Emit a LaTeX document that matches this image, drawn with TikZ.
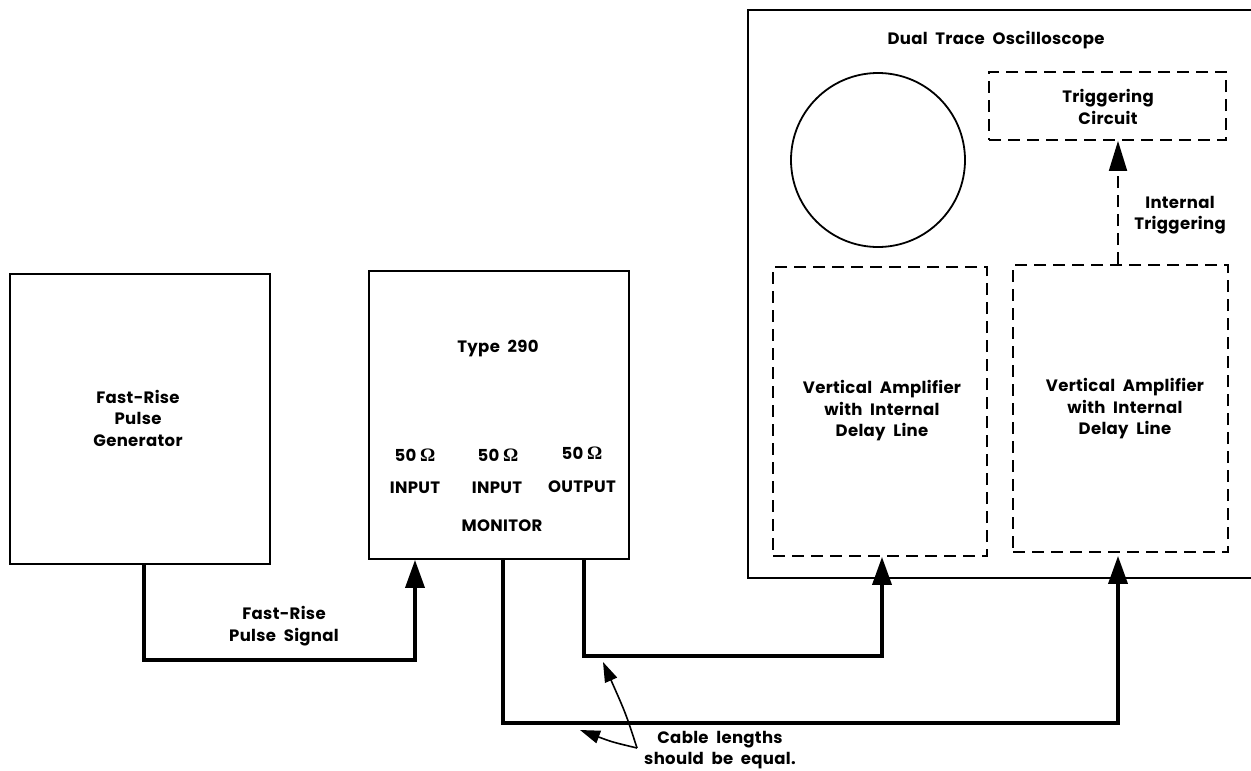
\documentclass[tikz,border=0pt]{standalone}
\usepackage{fontspec}
\setmainfont{Poppins}[BoldFont={Poppins Bold}, LetterSpace=2]
\newfontfamily\omegafont{Liberation Serif}
\usetikzlibrary{arrows.meta,calc}
\tikzset{
  lbl/.style={font=\bfseries\fontsize{16.5}{21.5}\selectfont, align=center, inner sep=0},
  box/.style={draw, line width=1.8, minimum width=#1, inner sep=0},
  dbox/.style={draw, line width=1.8, dash pattern=on 12pt off 7pt, inner sep=0},
  wire/.style={line width=3.6, -{Triangle[length=28pt,width=19pt]}},
  note/.style={line width=1.6, -{Triangle[length=20pt,width=13pt]}},
}
\newcommand{\ohm}{{\omegafont\fontsize{19}{20}\selectfont Ω}}
\begin{document}
\begin{tikzpicture}[x=1pt,y=-1pt]
\useasboundingbox (0,0) rectangle (1251,771);
% Pulse generator
\node[box=260, minimum height=290] (gen) at (140,419) {};
\node[lbl] (gentxt) at (138,418) {Fast-Rise\\Pulse\\Generator};
% Type 290
\node[box=260, minimum height=288] (t290) at (499,415) {};
\node[lbl] (t290txt) at (498,349) {Type\ \ 290};
\node[lbl] (o1) at (415,455) {50 \ohm};
\node[lbl] (o2) at (498,455) {50 \ohm};
\node[lbl] (o3) at (582,453) {50 \ohm};
\node[lbl] (in1) at (415,488) {INPUT};
\node[lbl] (in2) at (497,488) {INPUT};
\node[lbl] (out) at (582,487) {OUTPUT};
\node[lbl] (mon) at (502,526) {MONITOR};
% Oscilloscope
\node[box=522, minimum height=568] (scope) at (1009,294) {};
\node[lbl] (scopetxt) at (996,40) {Dual\ \ Trace\ \ Oscilloscope};
\node[draw, circle, line width=1.8, minimum size=174, inner sep=0] (crt) at (878,160) {};
\node[dbox, minimum width=237, minimum height=68] (trig) at (1107.5,106) {};
\node[lbl] (trigtxt) at (1108,107) {Triggering\\Circuit};
\node[dbox, minimum width=214, minimum height=289] (va1) at (880,411.5) {};
\node[lbl] (va1txt) at (882,411) {Vertical\ \ Amplifier\\with\ \ Internal\\Delay\ \ Line};
\node[dbox, minimum width=215, minimum height=287] (va2) at (1120.5,408.5) {};
\node[lbl] (va2txt) at (1125,409) {Vertical\ \ Amplifier\\with\ \ Internal\\Delay\ \ Line};
\node[lbl] (inttrig) at (1180,215) {Internal\\Triggering};
% internal triggering
\coordinate (tx) at (1118,0);
\draw[line width=1.8, dash pattern=on 12pt off 7pt, -{Triangle[length=30pt,width=18pt]}] (va2.north -| tx) -- (trig.south -| tx);
% wires
\node[lbl] (sig) at (284,626) {Fast-Rise\\Pulse\ \ Signal};
\coordinate (r1) at (415,660);
\draw[wire] ([xshift=4pt]gen.south) |- (r1) -- (t290.south -| r1);
\coordinate (r2a) at (503,723);
\coordinate (r2b) at (1118,723);
\draw[wire] (t290.south -| r2a) |- (r2b) -- ([yshift=-3pt]va2.south -| r2b);
\coordinate (r3a) at (584,656);
\coordinate (r3b) at (882,656);
\draw[wire] (t290.south -| r3a) |- (r3b) -- (va1.south -| r3b);
% cable note
\node[lbl] (cable) at (720,750) {Cable\ \ lengths\\should\ \ be\ \ equal.};
\coordinate (fork) at (637,748);
\draw[note] (fork) .. controls (626,714) .. (603,662);
\draw[note] (fork) .. controls (612,742) .. (580,730);
\end{tikzpicture}
\end{document}
